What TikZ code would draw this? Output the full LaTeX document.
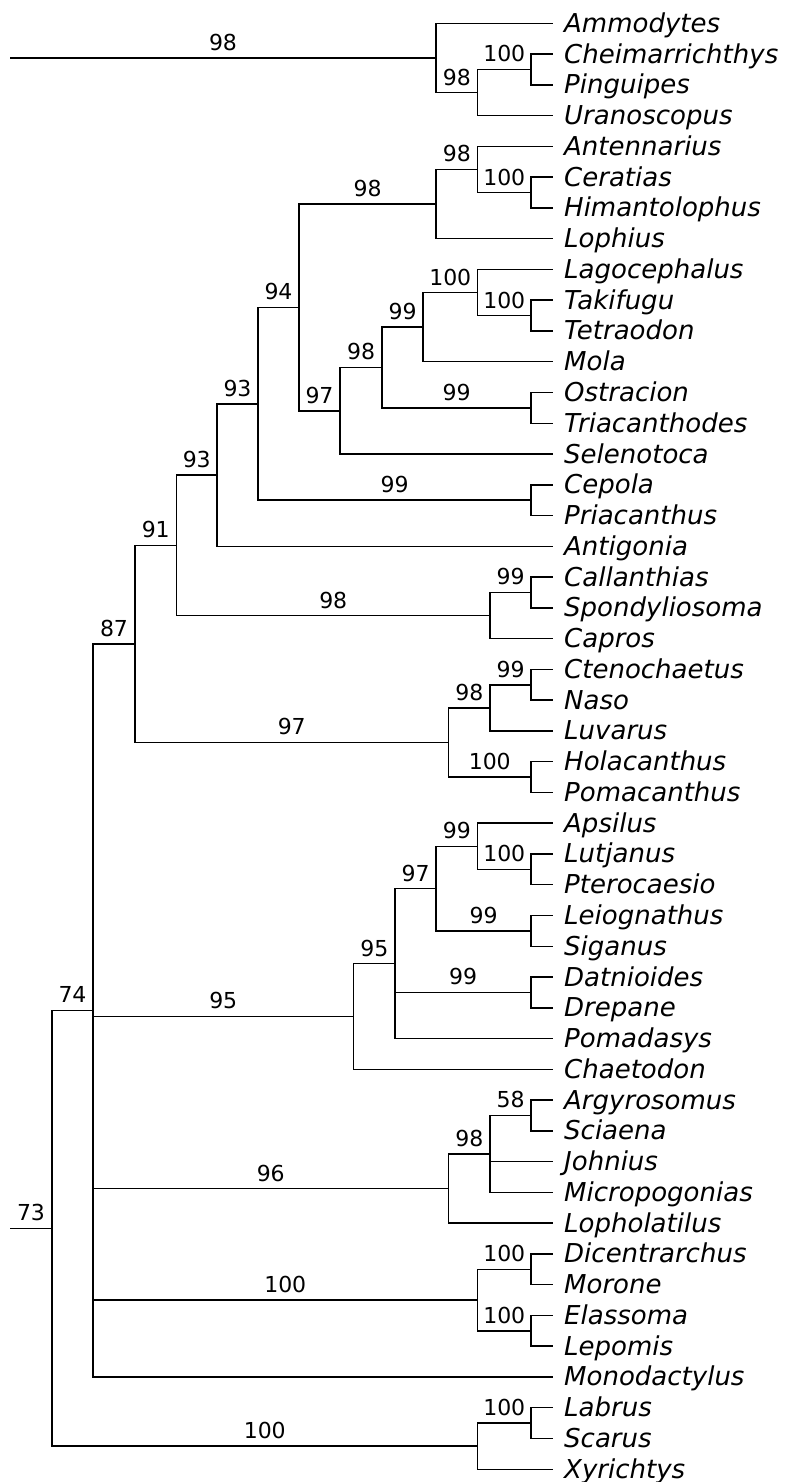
\documentclass[tikz,border=0pt]{standalone}
\usepackage{fontspec}
\setmainfont{DejaVu Sans}
\begin{document}
\begin{tikzpicture}[x=1pt,y=-1pt,
  br/.style={line width=1.5pt, line join=miter, black},
  leaflab/.style={anchor=base west, inner sep=0pt, font=\fontsize{26}{30}\selectfont\itshape},
  supp/.style={anchor=base, inner sep=0pt, font=\fontsize{22}{26}\selectfont}]
\useasboundingbox (0,0) rectangle (785,1482);
\newcommand\mkleaf[3]{\coordinate (#1) at (553,#2); \node[leaflab] (t#1) at (564,{#2+9}) {#3};}
\newcommand\brl[3]{\draw[br] (#1) |- (#2) node[supp,pos=0.75,yshift=7.5pt]{#3};}
\newcommand\brn[2]{\draw[br] (#1) |- (#2);}
% leaves
\mkleaf{Ammodytes}{23.30}{Ammodytes}
\mkleaf{Cheimarrichthys}{54.07}{Cheimarrichthys}
\mkleaf{Pinguipes}{84.83}{Pinguipes}
\mkleaf{Uranoscopus}{115.60}{Uranoscopus}
\mkleaf{Antennarius}{146.36}{Antennarius}
\mkleaf{Ceratias}{177.13}{Ceratias}
\mkleaf{Himantolophus}{207.89}{Himantolophus}
\mkleaf{Lophius}{238.66}{Lophius}
\mkleaf{Lagocephalus}{269.42}{Lagocephalus}
\mkleaf{Takifugu}{300.19}{Takifugu}
\mkleaf{Tetraodon}{330.95}{Tetraodon}
\mkleaf{Mola}{361.72}{Mola}
\mkleaf{Ostracion}{392.48}{Ostracion}
\mkleaf{Triacanthodes}{423.25}{Triacanthodes}
\mkleaf{Selenotoca}{454.01}{Selenotoca}
\mkleaf{Cepola}{484.78}{Cepola}
\mkleaf{Priacanthus}{515.54}{Priacanthus}
\mkleaf{Antigonia}{546.31}{Antigonia}
\mkleaf{Callanthias}{577.07}{Callanthias}
\mkleaf{Spondyliosoma}{607.84}{Spondyliosoma}
\mkleaf{Capros}{638.60}{Capros}
\mkleaf{Ctenochaetus}{669.37}{Ctenochaetus}
\mkleaf{Naso}{700.13}{Naso}
\mkleaf{Luvarus}{730.90}{Luvarus}
\mkleaf{Holacanthus}{761.66}{Holacanthus}
\mkleaf{Pomacanthus}{792.43}{Pomacanthus}
\mkleaf{Apsilus}{823.19}{Apsilus}
\mkleaf{Lutjanus}{853.96}{Lutjanus}
\mkleaf{Pterocaesio}{884.72}{Pterocaesio}
\mkleaf{Leiognathus}{915.49}{Leiognathus}
\mkleaf{Siganus}{946.25}{Siganus}
\mkleaf{Datnioides}{977.02}{Datnioides}
\mkleaf{Drepane}{1007.78}{Drepane}
\mkleaf{Pomadasys}{1038.55}{Pomadasys}
\mkleaf{Chaetodon}{1069.31}{Chaetodon}
\mkleaf{Argyrosomus}{1100.08}{Argyrosomus}
\mkleaf{Sciaena}{1130.84}{Sciaena}
\mkleaf{Johnius}{1161.61}{Johnius}
\mkleaf{Micropogonias}{1192.37}{Micropogonias}
\mkleaf{Lopholatilus}{1223.14}{Lopholatilus}
\mkleaf{Dicentrarchus}{1253.90}{Dicentrarchus}
\mkleaf{Morone}{1284.67}{Morone}
\mkleaf{Elassoma}{1315.43}{Elassoma}
\mkleaf{Lepomis}{1346.20}{Lepomis}
\mkleaf{Monodactylus}{1376.96}{Monodactylus}
\mkleaf{Labrus}{1407.73}{Labrus}
\mkleaf{Scarus}{1438.49}{Scarus}
\mkleaf{Xyrichtys}{1469.26}{Xyrichtys}
% internal nodes
\coordinate (R1) at (10,57.91);
\coordinate (R2) at (10,1228.31);
\coordinate (T0) at (436,57.91);
\coordinate (T1) at (477.5,92.53);
\coordinate (T2) at (531,69.45);
\coordinate (N73) at (52,1228.31);
\coordinate (N74) at (93,1010.42);
\coordinate (N87) at (135,643.87);
\coordinate (N91) at (176.5,545.29);
\coordinate (N93o) at (217,475.05);
\coordinate (N93i) at (258,403.78);
\coordinate (N94) at (299,307.40);
\coordinate (N98L) at (436,204.05);
\coordinate (N98A) at (477.5,169.44);
\coordinate (N100C) at (531,192.51);
\coordinate (N97b) at (340,410.75);
\coordinate (N98T) at (382,367.49);
\coordinate (N99T) at (423,327.11);
\coordinate (N100L) at (477.5,292.50);
\coordinate (N100T) at (531,315.57);
\coordinate (N99O) at (531,407.87);
\coordinate (CEP) at (531,500.16);
\coordinate (N98c) at (490,615.53);
\coordinate (N99c) at (531,592.46);
\coordinate (N97a) at (448.5,742.44);
\coordinate (N98n) at (490,707.83);
\coordinate (N99n) at (531,684.75);
\coordinate (N100h) at (531,777.05);
\coordinate (N95a) at (353.5,1016.44);
\coordinate (N95b) at (395,963.56);
\coordinate (N97c) at (436,888.57);
\coordinate (N99a) at (477.5,846.27);
\coordinate (N100lu) at (531,869.34);
\coordinate (N99l) at (531,930.87);
\coordinate (N99d) at (531,992.40);
\coordinate (N96) at (448.5,1188.53);
\coordinate (N98s) at (490,1153.92);
\coordinate (N58) at (531,1115.46);
\coordinate (N100a) at (477.5,1300.05);
\coordinate (N100di) at (531,1269.29);
\coordinate (N100el) at (531,1330.82);
\coordinate (LAB) at (477.5,1446.19);
\coordinate (N100lab) at (531,1423.11);
% branches
\draw[br] (R1) -- (T0) node[supp,midway,yshift=7.5pt]{98};
\brn{T0}{Ammodytes}
\brl{T0}{T1}{98}
\brl{T1}{T2}{100}
\brn{T2}{Cheimarrichthys}
\brn{T2}{Pinguipes}
\brn{T1}{Uranoscopus}
\draw[br] (R2) -- (N73) node[supp,midway,yshift=7.5pt]{73};
\brl{N73}{N74}{74}
\brl{N73}{LAB}{100}
\brl{N74}{N87}{87}
\brl{N74}{N95a}{95}
\brl{N74}{N96}{96}
\brl{N74}{N100a}{100}
\brn{N74}{Monodactylus}
\brl{N87}{N91}{91}
\brl{N87}{N97a}{97}
\brl{N91}{N93o}{93}
\brl{N91}{N98c}{98}
\brl{N93o}{N93i}{93}
\brn{N93o}{Antigonia}
\brl{N93i}{N94}{94}
\brl{N93i}{CEP}{99}
\brl{N94}{N98L}{98}
\brl{N94}{N97b}{97}
\brl{N98L}{N98A}{98}
\brn{N98L}{Lophius}
\brn{N98A}{Antennarius}
\brl{N98A}{N100C}{100}
\brn{N100C}{Ceratias}
\brn{N100C}{Himantolophus}
\brl{N97b}{N98T}{98}
\brn{N97b}{Selenotoca}
\brl{N98T}{N99T}{99}
\brl{N98T}{N99O}{99}
\brl{N99T}{N100L}{100}
\brn{N99T}{Mola}
\brn{N100L}{Lagocephalus}
\brl{N100L}{N100T}{100}
\brn{N100T}{Takifugu}
\brn{N100T}{Tetraodon}
\brn{N99O}{Ostracion}
\brn{N99O}{Triacanthodes}
\brn{CEP}{Cepola}
\brn{CEP}{Priacanthus}
\brl{N98c}{N99c}{99}
\brn{N98c}{Capros}
\brn{N99c}{Callanthias}
\brn{N99c}{Spondyliosoma}
\brl{N97a}{N98n}{98}
\brl{N97a}{N100h}{100}
\brl{N98n}{N99n}{99}
\brn{N98n}{Luvarus}
\brn{N99n}{Ctenochaetus}
\brn{N99n}{Naso}
\brn{N100h}{Holacanthus}
\brn{N100h}{Pomacanthus}
\brl{N95a}{N95b}{95}
\brn{N95a}{Chaetodon}
\brl{N95b}{N97c}{97}
\brl{N95b}{N99d}{99}
\brn{N95b}{Pomadasys}
\brl{N97c}{N99a}{99}
\brl{N97c}{N99l}{99}
\brn{N99a}{Apsilus}
\brl{N99a}{N100lu}{100}
\brn{N100lu}{Lutjanus}
\brn{N100lu}{Pterocaesio}
\brn{N99l}{Leiognathus}
\brn{N99l}{Siganus}
\brn{N99d}{Datnioides}
\brn{N99d}{Drepane}
\brl{N96}{N98s}{98}
\brn{N96}{Lopholatilus}
\brl{N98s}{N58}{58}
\brn{N98s}{Johnius}
\brn{N98s}{Micropogonias}
\brn{N58}{Argyrosomus}
\brn{N58}{Sciaena}
\brl{N100a}{N100di}{100}
\brl{N100a}{N100el}{100}
\brn{N100di}{Dicentrarchus}
\brn{N100di}{Morone}
\brn{N100el}{Elassoma}
\brn{N100el}{Lepomis}
\brl{LAB}{N100lab}{100}
\brn{LAB}{Xyrichtys}
\brn{N100lab}{Labrus}
\brn{N100lab}{Scarus}
\end{tikzpicture}
\end{document}
